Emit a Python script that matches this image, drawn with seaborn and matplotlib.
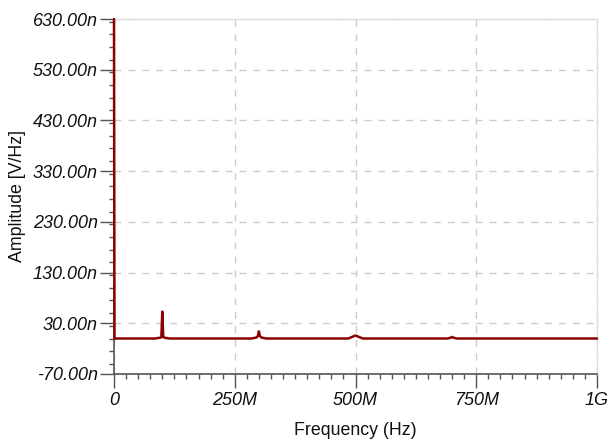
import matplotlib
matplotlib.use("Agg")
import matplotlib.pyplot as plt
import seaborn as sns
import pandas as pd
from matplotlib.ticker import MultipleLocator

# Data (frequency in MHz, amplitude in nV/Hz)
freq_mhz = [0, 1, 85, 95, 98, 100, 102, 105, 115, 285, 295, 298, 300, 302, 305, 315,
            485, 494, 500, 506, 515, 690, 697, 700, 703, 710, 1000]
amp_n = [630, 0, 0, 1.5, 2.5, 53, 2.5, 1.5, 0, 0, 2, 5, 14, 5, 2, 0,
         0, 3.5, 6, 3.5, 0, 0, 1.5, 3, 1.5, 0, 0]

x_ticks = [0, 250, 500, 750, 1000]
x_labels = ["0", "250M", "500M", "750M", "1G"]
y_ticks = [-70, 30, 130, 230, 330, 430, 530, 630]
y_labels = ["-70.00n", "30.00n", "130.00n", "230.00n", "330.00n", "430.00n", "530.00n", "630.00n"]

sns.set_style("white")
plt.rcParams['font.family'] = ['Liberation Sans', 'DejaVu Sans']
plt.rcParams['text.color'] = '#111111'
plt.rcParams['axes.labelcolor'] = '#111111'
plt.rcParams['xtick.labelcolor'] = '#111111'
plt.rcParams['ytick.labelcolor'] = '#111111'

fig = plt.figure(figsize=(6.13, 4.42), dpi=100)
ax = fig.add_axes([114/613, 1-374/442, (597-114)/613, (374-19)/442])

df = pd.DataFrame({"f": freq_mhz, "a": amp_n})
sns.lineplot(data=df, x="f", y="a", ax=ax, color="#8b0000", linewidth=1.8, sort=False)
for ln in ax.lines:
    ln.set_zorder(5)
    ln.set_clip_on(False)

ax.set_xlim(0, 1000)
ax.set_ylim(-70, 630)
ax.set_xticks(x_ticks)
ax.set_xticklabels(x_labels, fontstyle="italic", fontsize=13)
ax.set_yticks(y_ticks)
ax.set_yticklabels(y_labels, fontstyle="italic", fontsize=13)
ax.xaxis.set_minor_locator(MultipleLocator(25))
ax.yaxis.set_minor_locator(MultipleLocator(25))
ax.tick_params(which="major", direction="out", length=10, width=1, color="#555555", pad=1.5,
               bottom=True, left=True)
ax.tick_params(which="minor", direction="out", length=3.5, width=1, color="#555555",
               bottom=True, left=True)
ax.tick_params(axis="x", which="major", pad=3)

ax.grid(True, which="major", color="#cccccc", linestyle=(0, (5, 5)), linewidth=1)
for s in ["left", "bottom"]:
    ax.spines[s].set_color("#555555")
    ax.spines[s].set_linewidth(1.2)
for s in ["top", "right"]:
    ax.spines[s].set_color("#dddddd")
    ax.spines[s].set_linewidth(1)

ax.set_xlabel("Frequency (Hz)", fontsize=12.8, labelpad=9)
ax.set_ylabel("Amplitude [V/Hz]", fontsize=12.8, labelpad=5)

fig.savefig("out.png", dpi=100)
